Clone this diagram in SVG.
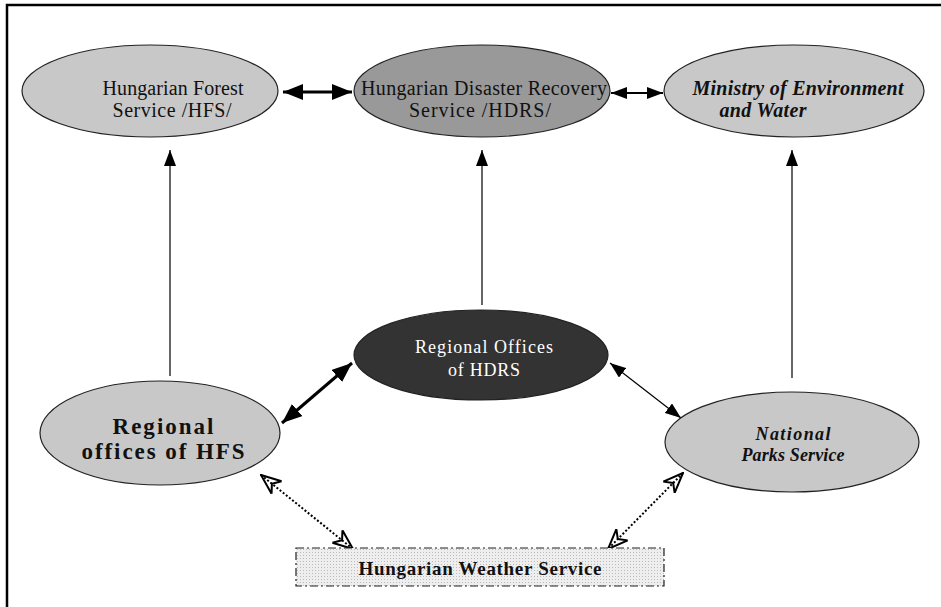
<svg xmlns="http://www.w3.org/2000/svg" width="941" height="607" viewBox="0 0 941 607">
<defs>
<marker id="ah" viewBox="0 0 16 12" refX="16" refY="6" markerWidth="16" markerHeight="12" markerUnits="userSpaceOnUse" orient="auto-start-reverse"><path d="M0,0 L16,6 L0,12 Z" fill="#000"/></marker>
<marker id="ahb" viewBox="0 0 20 16" refX="20" refY="8" markerWidth="20" markerHeight="16" markerUnits="userSpaceOnUse" orient="auto-start-reverse"><path d="M0,0 L20,8 L0,16 Z" fill="#000"/></marker>
<marker id="aho" viewBox="0 0 22 18" refX="21" refY="9" markerWidth="22" markerHeight="18" markerUnits="userSpaceOnUse" orient="auto-start-reverse"><path d="M1,1 L21,9 L1,17 M1,1 L7,9 L1,17" fill="none" stroke="#000" stroke-width="2"/></marker>
<pattern id="dots" width="3" height="3" patternUnits="userSpaceOnUse"><rect width="3" height="3" fill="#eeeeee"/><rect width="1" height="1" fill="#bbbbbb"/></pattern>
</defs>
<style>
.n{stroke:#222;stroke-width:1.2}
.lt{fill:#c8c8c8}
.t{font-family:"Liberation Serif","Times New Roman",serif;fill:#111;text-anchor:middle}
.w{fill:#fff}
.c{stroke:#000;fill:none}
</style>
<rect width="941" height="607" fill="#fff"/>
<path d="M7,607 L7,5 L941,5" fill="none" stroke="#000" stroke-width="2.5"/>
<g id="connectors">
<line class="c" x1="283" y1="92" x2="352" y2="92" stroke-width="3" marker-start="url(#ahb)" marker-end="url(#ahb)"/>
<line class="c" x1="611" y1="93" x2="663" y2="93" stroke-width="2" marker-start="url(#ah)" marker-end="url(#ah)"/>
<line class="c" x1="170" y1="376" x2="170" y2="150" stroke-width="1.2" marker-end="url(#ah)"/>
<line class="c" x1="482" y1="305" x2="482" y2="150" stroke-width="1.2" marker-end="url(#ah)"/>
<line class="c" x1="792" y1="378" x2="792" y2="150" stroke-width="1.2" marker-end="url(#ah)"/>
<line class="c" x1="282" y1="423" x2="352" y2="363" stroke-width="3" marker-start="url(#ahb)" marker-end="url(#ahb)"/>
<line class="c" x1="610" y1="363" x2="681" y2="418" stroke-width="1.2" marker-start="url(#ah)" marker-end="url(#ah)"/>
<line class="c" x1="261" y1="475" x2="353" y2="549" stroke-width="2" stroke-dasharray="2,2" marker-start="url(#aho)" marker-end="url(#aho)"/>
<line class="c" x1="683" y1="473" x2="608" y2="549" stroke-width="2" stroke-dasharray="2,2" marker-start="url(#aho)" marker-end="url(#aho)"/>
</g>
<g id="hfs">
<ellipse class="n lt" cx="150" cy="91" rx="128" ry="46"/>
<text class="t" x="173" y="95" font-size="20" textLength="141">Hungarian Forest</text>
<text class="t" x="172" y="117" font-size="20" textLength="119">Service /HFS/</text>
</g>
<g id="hdrs">
<ellipse class="n" cx="482" cy="91" rx="128" ry="46" fill="#999"/>
<text class="t" x="484" y="95" font-size="20" textLength="246">Hungarian Disaster Recovery</text>
<text class="t" x="480" y="117" font-size="20" textLength="142">Service /HDRS/</text>
</g>
<g id="ministry">
<ellipse class="n lt" cx="794" cy="91" rx="130" ry="46"/>
<text class="t" x="798" y="95" font-size="20" font-weight="bold" font-style="italic" textLength="211">Ministry of Environment</text>
<text class="t" x="763" y="117" font-size="20" font-weight="bold" font-style="italic" textLength="87">and Water</text>
</g>
<g id="regional-hdrs">
<ellipse class="n" cx="481" cy="355" rx="127" ry="45" fill="#333"/>
<text class="t w" x="484" y="353" font-size="18" textLength="138">Regional Offices</text>
<text class="t w" x="484" y="376" font-size="18" textLength="72">of HDRS</text>
</g>
<g id="regional-hfs">
<ellipse class="n lt" cx="160" cy="433" rx="120" ry="52"/>
<text class="t" x="163" y="434" font-size="23" font-weight="bold" textLength="101">Regional</text>
<text class="t" x="163" y="459" font-size="23" font-weight="bold" textLength="163">offices of HFS</text>
</g>
<g id="national-parks">
<ellipse class="n lt" cx="792" cy="442" rx="127" ry="50"/>
<text class="t" x="793" y="440" font-size="18" font-weight="bold" font-style="italic" textLength="75">National</text>
<text class="t" x="793" y="461" font-size="18" font-weight="bold" font-style="italic" textLength="103">Parks Service</text>
</g>
<g id="weather">
<rect x="296" y="548" width="368" height="38" fill="url(#dots)" stroke="#222" stroke-width="1.2" stroke-dasharray="8,3,2,3"/>
<text class="t" x="480" y="575" font-size="19" font-weight="bold" textLength="243">Hungarian Weather Service</text>
</g>
</svg>
